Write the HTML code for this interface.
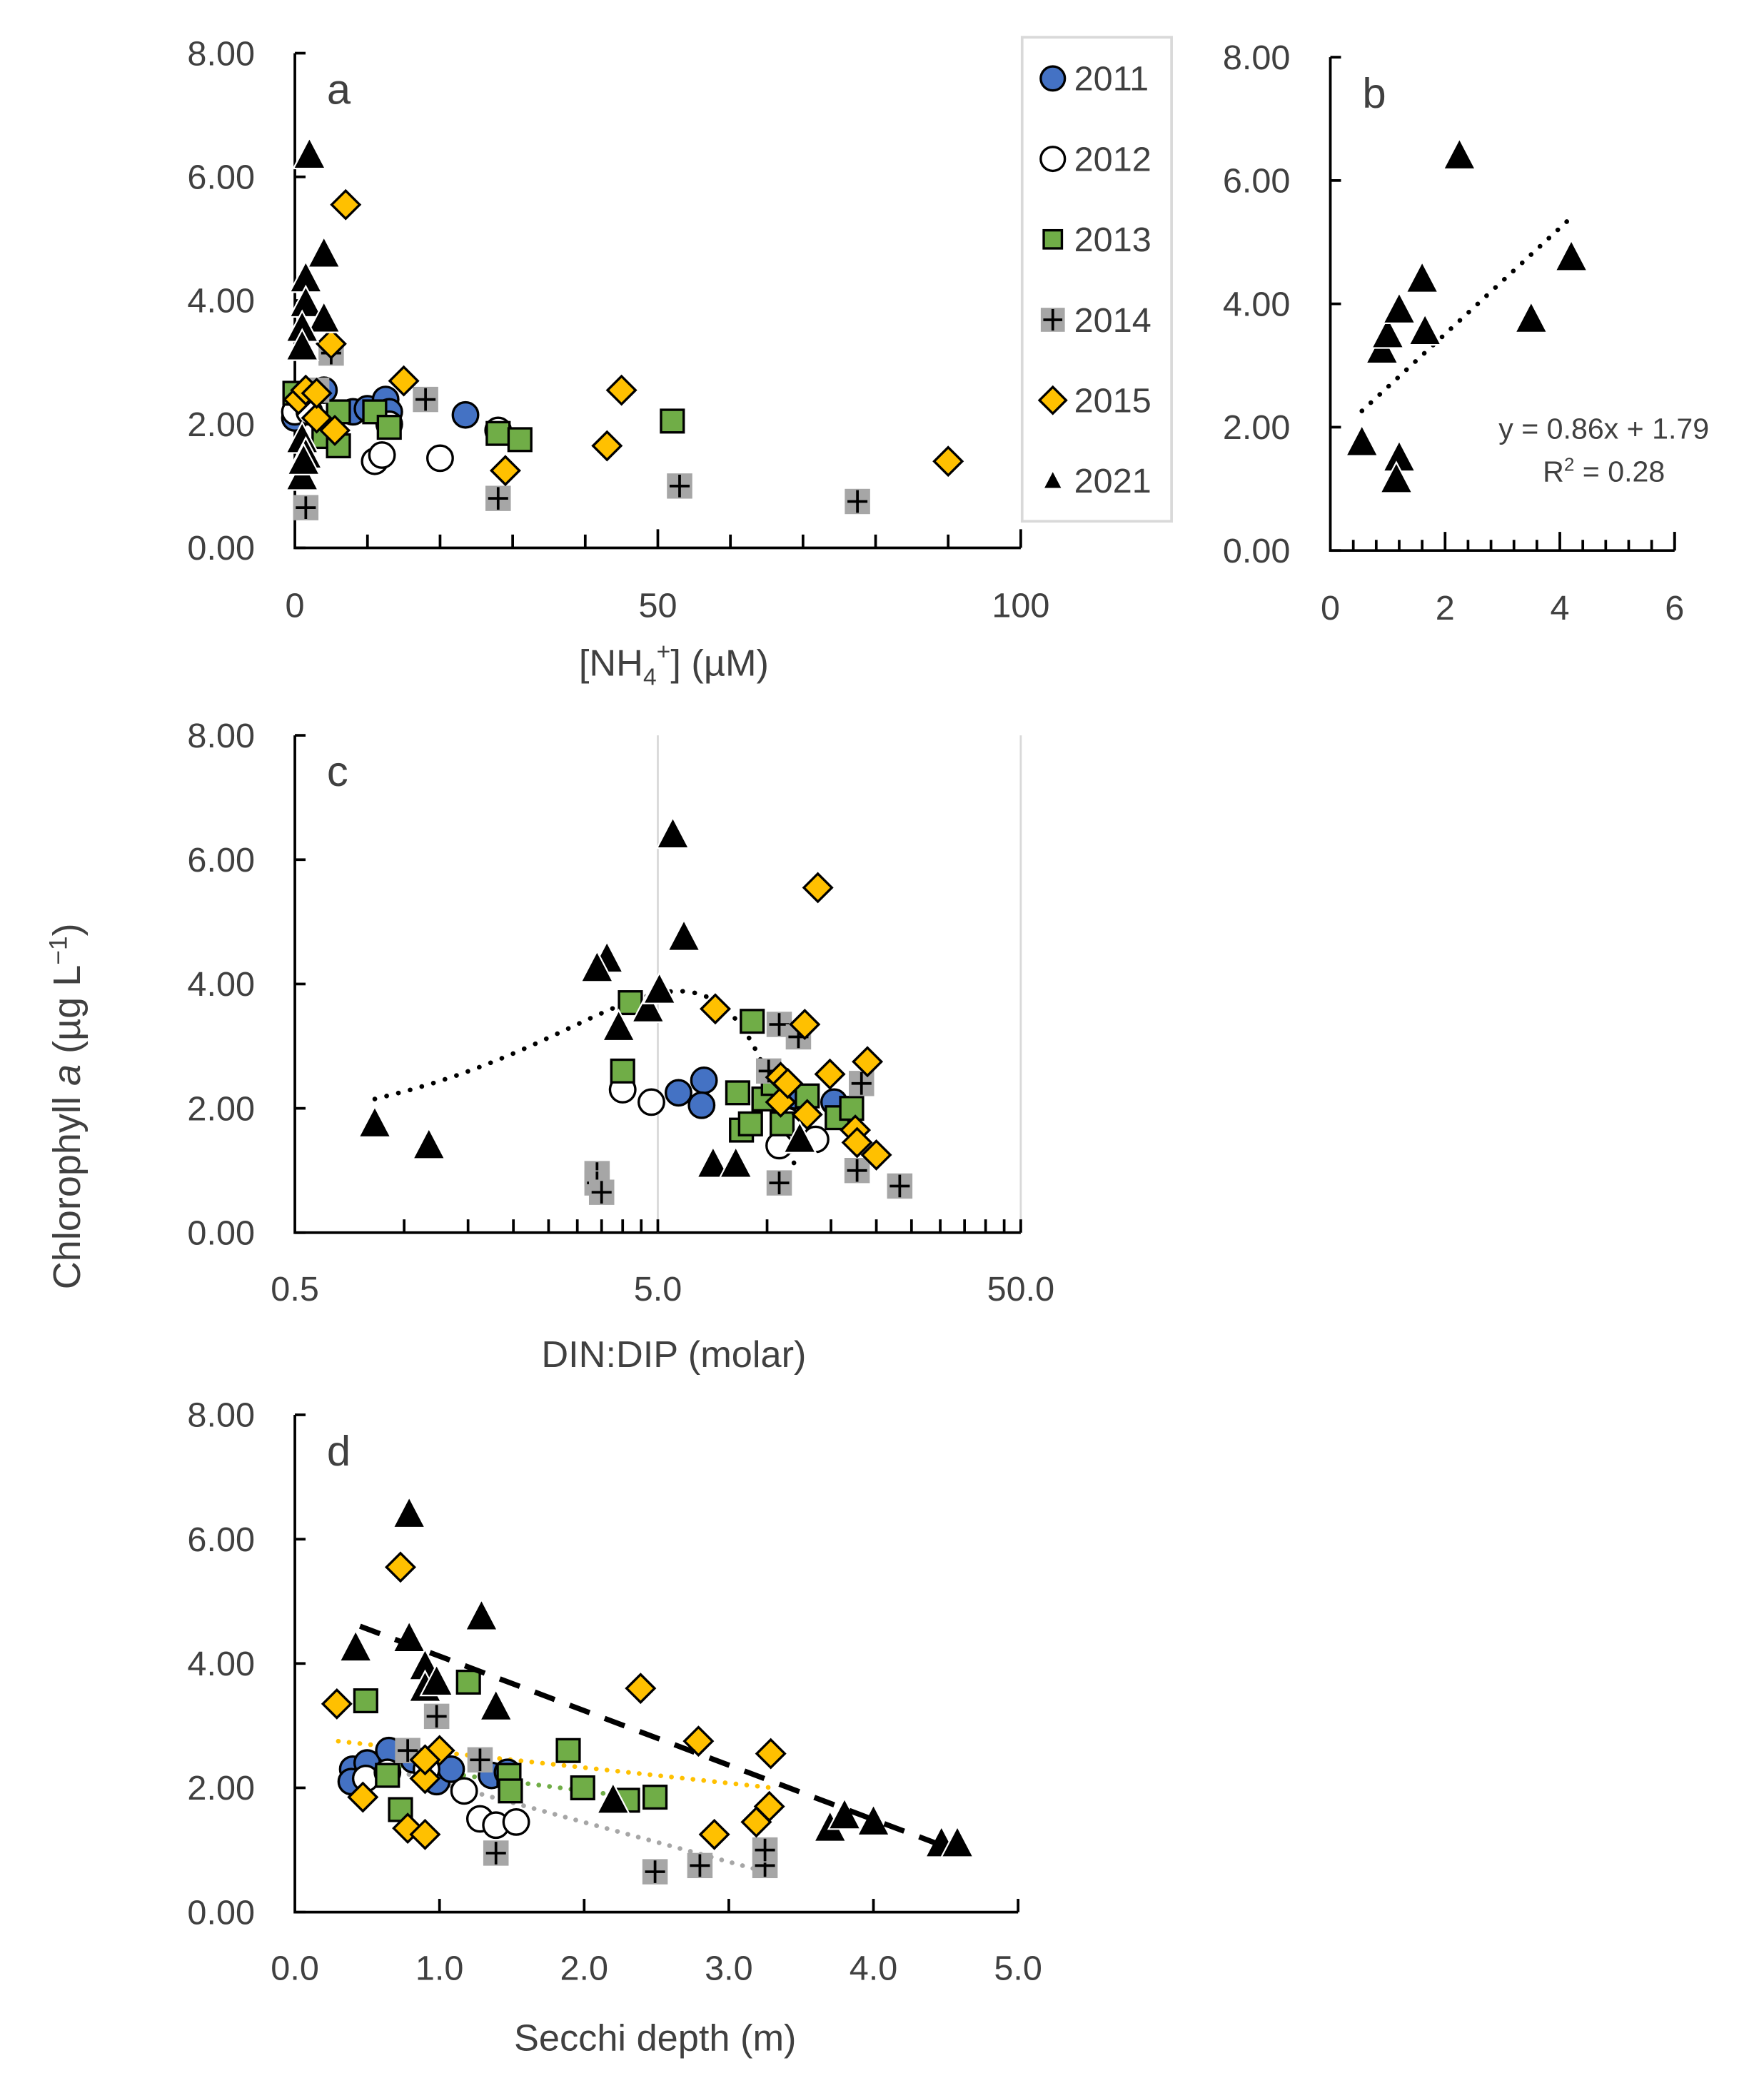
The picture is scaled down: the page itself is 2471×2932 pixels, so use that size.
<!DOCTYPE html>
<html><head><meta charset="utf-8"><style>
html,body{margin:0;padding:0;background:#fff;}
svg{display:block;}
text{font-family:"Liberation Sans",sans-serif;fill:#404040;}
</style></head><body>
<svg id="fig" xmlns="http://www.w3.org/2000/svg" width="2471" height="2932" viewBox="0 0 1322 1574" preserveAspectRatio="none">
<rect x="0" y="0" width="1322" height="1574" fill="#fff"/>
<text x="0" y="0" font-size="29" text-anchor="middle" transform="translate(60,832) rotate(-90)">Chlorophyll <tspan font-style="italic">a</tspan> (µg L<tspan dy="-10" font-size="19">−1</tspan><tspan dy="10">)</tspan></text>
</svg>
<script>
// ---------- Panel a data: NH4+ (µM) vs Chl a ----------
const aX2011=[0,4,8,10,12.5,13,23.5,1];
const aY2011=[2.1,2.55,2.2,2.25,2.4,2.2,2.15,2.3];
const aX2012=[0,11,12,20,28,13,2];
const aY2012=[2.2,1.4,1.5,1.45,1.9,2.0,2.2];
const aX2013=[0,4,6,6,11,13,28,31,52];
const aY2013=[2.5,1.8,2.2,1.65,2.2,1.95,1.85,1.75,2.05];
const aX2014=[1.5,5,18,28,53,77.5,3];
const aY2014=[0.65,3.15,2.4,0.8,1.0,0.75,2.55];
const aX2015=[0.5,1.5,3,5,5.5,7,15,29,43,45,90,3];
const aY2015=[2.4,2.55,2.1,3.3,1.9,5.55,2.7,1.25,1.65,2.55,1.4,2.5];
const aX2021=[2,4,1.5,1.5,4,1,1,1,1.5,1,1.2];
const aY2021=[6.35,4.75,4.35,3.95,3.7,3.55,3.25,1.75,1.5,1.15,1.4];
const aXTicks=[0,50,100];
// ---------- Panel b data ----------
const bX2021=[0.55,1.2,1.15,0.9,1.0,1.2,1.6,1.65,2.25,3.5,4.2];
const bY2021=[1.75,1.5,1.15,3.25,3.5,3.9,4.4,3.55,6.4,3.75,4.75];
const bTrend=[0.86,1.79];
const bTrendRange=[0.55,4.2];
const bXTicks=[0,2,4,6];
// ---------- Panel c data: DIN:DIP (log) ----------
const cX2011=[5.7,6.7,6.6,11.9,15.3];
const cY2011=[2.25,2.45,2.05,2.2,2.1];
const cX2012=[4.0,4.8,10.8,13.6,11.4];
const cY2012=[2.3,2.1,1.4,1.5,1.8];
const cX2013=[4.0,4.2,9.1,8.3,8.5,9.0,9.8,11,12.9,15.6,17.1,10.4];
const cY2013=[2.6,3.7,3.4,2.25,1.65,1.75,2.15,1.75,2.2,1.85,2.0,2.4];
const cX2014=[3.4,3.4,3.5,10.8,10.8,12.2,10.1,17.7,18.2,23.2];
const cY2014=[0.95,0.8,0.65,0.8,3.35,3.15,2.6,1.0,2.4,0.75];
const cX2015=[7.2,13.8,12.7,14.9,18.9,17.5,17.7,20,10.9,10.9,11.4,12.9];
const cY2015=[3.6,5.55,3.35,2.55,2.75,1.65,1.45,1.25,2.5,2.1,2.4,1.9];
const cX2021=[0.83,1.17,3.62,3.4,3.9,4.7,5.05,5.5,5.9,7.1,8.2,12.3];
const cY2021=[1.75,1.4,4.4,4.25,3.3,3.6,3.9,6.4,4.75,1.1,1.1,1.5];
const cTrend=[1.509,0.833,-0.073];
const cTrendRange=[0.83,12];
const cXTicks=["0.5","5.0","50.0"];
// ---------- Panel d data: Secchi depth ----------
const dX2011=[0.4,0.39,0.5,0.65,0.82,0.98,1.08,1.36,1.47];
const dY2011=[2.3,2.1,2.4,2.6,2.45,2.1,2.3,2.2,2.25];
const dX2012=[0.49,0.64,1.17,1.28,1.39,1.53,0.91];
const dY2012=[2.15,2.25,1.95,1.5,1.4,1.45,2.3];
const dX2013=[0.49,0.73,1.2,1.48,1.49,1.89,1.99,2.3,2.49,0.64];
const dY2013=[3.4,1.65,3.7,2.2,1.95,2.6,2.0,1.8,1.85,2.2];
const dX2014=[0.78,0.98,1.28,1.39,2.49,2.8,3.25,3.25];
const dY2014=[2.6,3.15,2.45,0.95,0.65,0.75,0.75,1.0];
const dX2015=[0.29,0.73,0.47,0.78,0.9,0.9,1.0,0.9,2.39,2.79,2.9,3.19,3.28,3.29];
const dY2015=[3.35,5.55,1.85,1.35,1.25,2.15,2.6,2.45,3.6,2.75,1.25,1.45,1.7,2.55];
const dX2021=[0.42,0.79,0.79,0.9,0.9,0.98,1.29,1.39,2.2,3.7,3.8,4.0,4.47,4.58];
const dY2021=[4.25,6.4,4.4,3.95,3.6,3.7,4.75,3.3,1.8,1.35,1.55,1.45,1.1,1.1];
const dTrend2021=[[0.45,4.6],[4.5,1.05]];
const dTrend2015=[[0.3,2.75],[3.3,2.0]];
const dTrend2014=[[0.5,2.4],[3.25,0.65]];
const dTrend2013=[[0.5,2.4],[2.5,1.8]];
const dXTicks=["0.0","1.0","2.0","3.0","4.0","5.0"];
const yTicks=["0.00","2.00","4.00","6.00","8.00"];
const legendYears=["2011","2012","2013","2014","2015","2021"];

const NS="http://www.w3.org/2000/svg";
const svg=document.getElementById('fig');
function mk(tag,attrs,parent){const e=document.createElementNS(NS,tag);for(const k in attrs)e.setAttribute(k,attrs[k]);(parent||svg).appendChild(e);return e;}

function marker(kind,cx,cy,g,s){
  s=s||1;let e;
  if(kind==='2011'){e=mk('circle',{cx:cx,cy:cy,r:9.5*s,fill:'#4472c4',stroke:'#000','stroke-width':1.8},g);}
  else if(kind==='2012'){e=mk('circle',{cx:cx,cy:cy,r:9.5*s,fill:'#fff',stroke:'#000','stroke-width':1.8},g);}
  else if(kind==='2013'){e=mk('rect',{x:cx-8.5*s,y:cy-8.5*s,width:17*s,height:17*s,fill:'#70ad47',stroke:'#000','stroke-width':1.8},g);}
  else if(kind==='2014'){e=mk('g',{},g);mk('rect',{x:cx-9.5*s,y:cy-9.5*s,width:19*s,height:19*s,fill:'#a6a6a6'},e);mk('path',{d:`M${cx-7.5*s},${cy}H${cx+7.5*s}M${cx},${cy-8.5*s}V${cy+8.5*s}`,stroke:'#000','stroke-width':2},e);}
  else if(kind==='2015'){e=mk('path',{d:`M${cx},${cy-10.5*s}L${cx+10.5*s},${cy}L${cx},${cy+10.5*s}L${cx-10.5*s},${cy}Z`,fill:'#ffc000',stroke:'#000','stroke-width':1.8},g);}
  else {e=mk('path',{d:`M${cx},${cy-13*s}L${cx+12*s},${cy+10*s}L${cx-12*s},${cy+10*s}Z`,fill:'#000',stroke:'#fff','stroke-width':1.2},g);}
  return e;
}

function panel(name,x0,x1,yb,yt,letter){
  const g=mk('g',{});
  
  
  const sy=v=>yb-(yb-yt)*v/8;
  mk('path',{d:`M${x0},${yt}V${yb}H${x1}`,fill:'none',stroke:'#000','stroke-width':2},g);
  yTicks.forEach(t=>{const y=sy(parseFloat(t));
    mk('path',{d:`M${x0},${y}H${x0+8}`,stroke:'#000','stroke-width':2},g);
    const tx=mk('text',{x:x0-30,y:y+9,'font-size':26,'text-anchor':'end'},g);tx.textContent=t;
    
    
  });
  const lt=mk('text',{x:x0+24,y:yt+38,'font-size':32,fill:'#000'},g);lt.textContent=letter;
  
  
  return {g,sy};
}
function series(g,kind,xs,ys,sx,sy){
  const sg=mk('g',{},g);
  
  
  xs.forEach((x,i)=>{const m=marker(kind,sx(x),sy(ys[i]),sg);
    
    });
}

// ===== Panel a =====
{
  const x0=221,x1=765;const P=panel('panel-a',x0,x1,412,40,'a');const g=P.g,sy=P.sy;
  const sx=v=>x0+(x1-x0)*v/100;
  for(let v=10;v<=100;v+=10){mk('path',{d:`M${sx(v)},412V${v%50?402:398}`,stroke:'#000','stroke-width':2},g);}
  aXTicks.forEach(t=>{const tx=mk('text',{x:sx(t),y:464,'font-size':26,'text-anchor':'middle'},g);tx.textContent=t;
    
    });
  const xt=mk('text',{x:505,y:508,'font-size':28,'text-anchor':'middle'},g);
  xt.innerHTML='[NH<tspan dy="7" font-size="18">4</tspan><tspan dy="-19" font-size="18">+</tspan><tspan dy="12">] (µM)</tspan>';
  
  
  series(g,'2011',aX2011,aY2011,sx,sy);series(g,'2012',aX2012,aY2012,sx,sy);series(g,'2013',aX2013,aY2013,sx,sy);
  series(g,'2014',aX2014,aY2014,sx,sy);series(g,'2015',aX2015,aY2015,sx,sy);series(g,'2021',aX2021,aY2021,sx,sy);
  const lg=mk('g',{});
  
  
  mk('rect',{x:766,y:28,width:112,height:364,fill:'#fff',stroke:'#d9d9d9','stroke-width':2},lg);
  legendYears.forEach((yr,i)=>{const y=59+i*60.5;
    const e=mk('g',{},lg);
    
    
    marker(yr,789,y,e,yr==='2021'?0.6:(yr==='2013'?0.8:0.95));
    const t=mk('text',{x:805,y:y+9,'font-size':26},e);t.textContent=yr;});
}
// ===== Panel b =====
{
  const x0=997,x1=1255;const P=panel('panel-b',x0,x1,414,43,'b');const g=P.g,sy=P.sy;
  const sx=v=>x0+(x1-x0)*v/6;
  for(let v=0.4;v<6.01;v+=0.4){const maj=Math.abs(v/2-Math.round(v/2))<0.01;mk('path',{d:`M${sx(v)},414V${maj?400:406}`,stroke:'#000','stroke-width':2},g);}
  mk('path',{d:`M${x1},414V400`,stroke:'#000','stroke-width':2},g);
  bXTicks.forEach(t=>{const tx=mk('text',{x:sx(t),y:466,'font-size':26,'text-anchor':'middle'},g);tx.textContent=t;
    
    });
  const tl=mk('line',{x1:sx(bTrendRange[0]),y1:sy(bTrend[0]*bTrendRange[0]+bTrend[1]),x2:sx(bTrendRange[1]),y2:sy(bTrend[0]*bTrendRange[1]+bTrend[1]),stroke:'#000','stroke-width':3.5,'stroke-dasharray':'0.1 9','stroke-linecap':'round'},g);
  
  
  series(g,'2021',bX2021,bY2021,sx,sy);
  const e1=mk('text',{x:1202,y:330,'font-size':22,'text-anchor':'middle',fill:'#000'},g);e1.textContent='y = 0.86x + 1.79';
  
  
  const e2=mk('text',{x:1202,y:362,'font-size':22,'text-anchor':'middle',fill:'#000'},g);e2.innerHTML='R<tspan dy="-8" font-size="14">2</tspan><tspan dy="8"> = 0.28</tspan>';
  
  
}
// ===== Panel c =====
{
  const x0=221,x1=765;const P=panel('panel-c',x0,x1,927,553,'c');const g=P.g,sy=P.sy;
  const sx=v=>x0+(x1-x0)*Math.log10(v/0.5)/2;
  mk('line',{x1:sx(5),y1:553,x2:sx(5),y2:927,stroke:'#d9d9d9','stroke-width':1.5},g);
  mk('line',{x1:sx(50),y1:553,x2:sx(50),y2:927,stroke:'#d9d9d9','stroke-width':1.5},g);
  [0.5,5].forEach(d=>{for(let k=2;k<=10;k++){const v=d*k;mk('path',{d:`M${sx(v)},927V917`,stroke:'#000','stroke-width':2},g);}});
  cXTicks.forEach(t=>{const tx=mk('text',{x:sx(parseFloat(t)),y:978,'font-size':26,'text-anchor':'middle'},g);tx.textContent=t;
    
    });
  const xt=mk('text',{x:505,y:1028,'font-size':28,'text-anchor':'middle'},g);xt.textContent='DIN:DIP (molar)';
  
  
  let d='';for(let i=0;i<=60;i++){const x=cTrendRange[0]+(cTrendRange[1]-cTrendRange[0])*i/60;const y=cTrend[0]+cTrend[1]*x+cTrend[2]*x*x;d+=(i?'L':'M')+sx(x)+','+sy(y);}
  const tr=mk('path',{d:d,fill:'none',stroke:'#000','stroke-width':3.5,'stroke-dasharray':'0.1 9','stroke-linecap':'round'},g);
  
  
  series(g,'2011',cX2011,cY2011,sx,sy);series(g,'2012',cX2012,cY2012,sx,sy);series(g,'2013',cX2013,cY2013,sx,sy);
  series(g,'2014',cX2014,cY2014,sx,sy);series(g,'2015',cX2015,cY2015,sx,sy);series(g,'2021',cX2021,cY2021,sx,sy);
}
// ===== Panel d =====
{
  const x0=221,x1=763;const P=panel('panel-d',x0,x1,1438,1064,'d');const g=P.g,sy=P.sy;
  const sx=v=>x0+(x1-x0)*v/5;
  for(let v=1;v<=5;v++){mk('path',{d:`M${sx(v)},1438V1428`,stroke:'#000','stroke-width':2},g);}
  dXTicks.forEach(t=>{const tx=mk('text',{x:sx(parseFloat(t)),y:1489,'font-size':26,'text-anchor':'middle'},g);tx.textContent=t;
    
    });
  const xt=mk('text',{x:491,y:1542,'font-size':28,'text-anchor':'middle'},g);xt.textContent='Secchi depth (m)';
  
  
  const lines=[[dTrend2015,'#ffc000','0.1 8'],[dTrend2014,'#a6a6a6','0.1 8'],[dTrend2013,'#70ad47','0.1 8']];
  lines.forEach(([p,c,da])=>{const l=mk('line',{x1:sx(p[0][0]),y1:sy(p[0][1]),x2:sx(p[1][0]),y2:sy(p[1][1]),stroke:c,'stroke-width':3.5,'stroke-dasharray':da,'stroke-linecap':'round'},g);
    
    });
  series(g,'2011',dX2011,dY2011,sx,sy);series(g,'2012',dX2012,dY2012,sx,sy);series(g,'2013',dX2013,dY2013,sx,sy);
  series(g,'2014',dX2014,dY2014,sx,sy);series(g,'2015',dX2015,dY2015,sx,sy);series(g,'2021',dX2021,dY2021,sx,sy);
  const bl=mk('line',{x1:sx(dTrend2021[0][0]),y1:sy(dTrend2021[0][1]),x2:sx(dTrend2021[1][0]),y2:sy(dTrend2021[1][1]),stroke:'#000','stroke-width':4,'stroke-dasharray':'16 12'},g);
  
  
}
</script>
</body></html>
